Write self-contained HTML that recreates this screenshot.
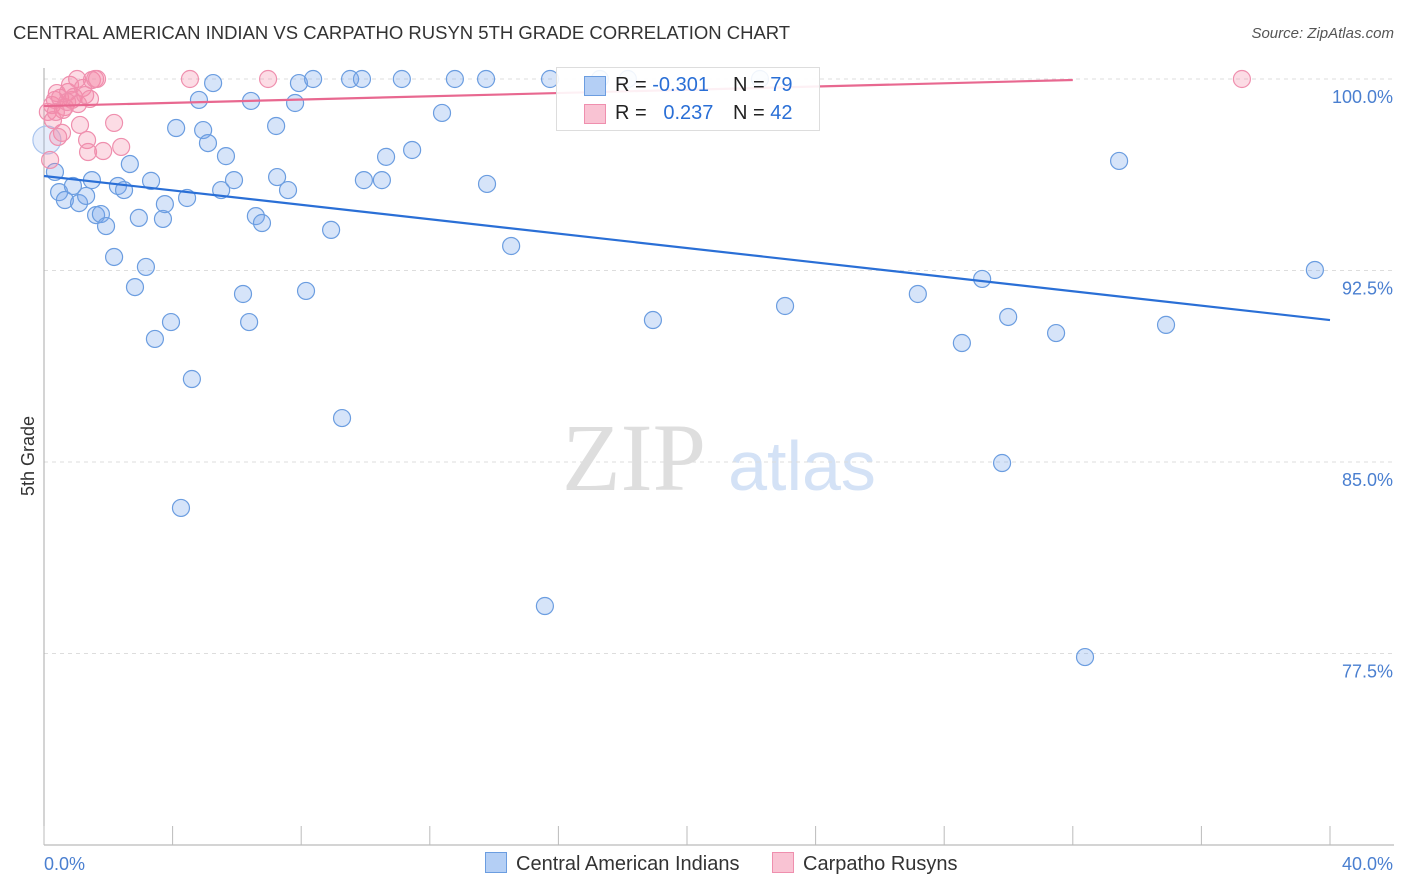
<!DOCTYPE html>
<html><head><meta charset="utf-8"><style>
body{margin:0;background:#fff;font-family:"Liberation Sans",sans-serif;}
#wrap{position:relative;width:1406px;height:892px;overflow:hidden;}
.t{position:absolute;white-space:nowrap;}
</style></head><body>
<div id="wrap">
<div class="t" style="left:13px;top:22px;font-size:18.5px;color:#333;">CENTRAL AMERICAN INDIAN VS CARPATHO RUSYN 5TH GRADE CORRELATION CHART</div>
<div class="t" style="right:12px;top:25px;font-size:15px;color:#555;font-style:italic;">Source: ZipAtlas.com</div>
<svg id="svg" width="1406" height="892" style="position:absolute;left:0;top:0;"></svg>
</div>
<script>
const yTicks=[100,92.5,85,77.5];
const yTickLabels=["100.0%","92.5%","85.0%","77.5%"];
const xTicks=[0,4,8,12,16,20,24,28,32,36,40];
const blueX=[0.34,0.47,0.65,0.90,1.09,1.31,1.49,1.62,1.77,1.93,2.18,2.30,2.49,2.67,2.83,2.95,3.17,3.33,3.45,3.70,3.76,3.95,4.11,4.26,4.45,4.60,4.82,4.95,5.10,5.26,5.51,5.66,5.91,6.19,6.38,6.44,6.59,6.78,7.22,7.25,7.59,7.81,7.93,8.15,8.37,8.93,9.27,9.52,9.89,9.95,10.51,10.64,11.13,11.45,12.38,12.78,13.75,13.78,14.53,15.58,15.74,17.29,18.16,18.94,22.27,23.05,27.18,28.55,29.18,29.80,29.99,31.48,32.38,33.44,34.90,39.53,0.09];
const blueY=[96.36,95.57,95.26,95.81,95.14,95.42,96.04,94.67,94.71,94.24,93.03,95.81,95.65,96.67,91.85,94.56,92.64,96.01,89.82,94.52,95.10,90.48,98.08,83.20,95.34,88.25,99.18,98.00,97.49,99.84,95.65,96.98,96.04,91.58,90.48,99.14,94.63,94.36,98.16,96.16,95.65,99.06,99.84,91.70,100,94.09,86.72,100,100,96.04,96.04,96.95,100,97.22,98.67,100,100,95.89,93.46,79.36,100,100,100,90.56,100,91.11,91.58,89.66,92.17,84.96,90.68,90.05,77.36,96.79,90.37,92.52,97.61];
const pinkX=[0.12,0.19,0.25,0.34,0.40,0.50,0.56,0.65,0.75,0.81,0.87,0.93,1.03,1.12,1.21,1.34,1.37,1.43,1.49,1.59,1.65,1.84,2.18,2.40,4.54,6.97,37.26,0.44,0.59,0.72,0.28,0.37,1.06,1.28];
const pinkY=[98.71,96.83,98.98,99.18,99.45,99.26,97.89,98.90,99.49,99.77,99.18,99.30,100,98.20,99.65,97.61,97.14,99.22,99.96,100,100,97.18,98.28,97.34,100,100,100,97.73,98.79,99.10,98.39,98.71,99.02,99.37];
const blueTrendX=[0,40];
const blueTrendY=[96.20,90.56];
const pinkTrendX=[0,32];
const pinkTrendY=[98.94,99.96];

const X0=44,PX=1286/40;
const xs=v=>X0+v*PX;
const ys=v=>79+(100-v)*191.5/7.5;
const svg=document.getElementById('svg');
const NS='http://www.w3.org/2000/svg';
function mk(tag,attrs,parent){const e=document.createElementNS(NS,tag);for(const k in attrs)e.setAttribute(k,attrs[k]);(parent||svg).appendChild(e);return e;}

let w=mk('text',{x:634,y:490,'font-size':96,'font-family':'Liberation Serif,serif',fill:'#dedede','text-anchor':'middle'});
w.textContent='ZIP';


w=mk('text',{x:802,y:490,'font-size':70,'font-family':'Liberation Sans,sans-serif',fill:'#d4e2f6','text-anchor':'middle'});
w.textContent='atlas';



yTicks.forEach((v,i)=>{
 const l=mk('line',{x1:44,x2:1394,y1:ys(v),y2:ys(v),stroke:'#dddddd','stroke-dasharray':'4,4'});
 
 
 const t=mk('text',{x:1393,y:ys(v)+24,'font-size':18,fill:'#4a7fd0','text-anchor':'end','font-family':'Liberation Sans,sans-serif'});
 t.textContent=yTickLabels[i];
 
 
});
let a=mk('line',{x1:44,x2:44,y1:68,y2:845,stroke:'#aaa'});


a=mk('line',{x1:44,x2:1394,y1:845,y2:845,stroke:'#aaa'});


xTicks.forEach(v=>{
 const l=mk('line',{x1:xs(v),x2:xs(v),y1:826,y2:845,stroke:'#bbb'});
 
 
});
let t=mk('text',{x:44,y:870,'font-size':18,fill:'#4a7fd0','font-family':'Liberation Sans,sans-serif'});
t.textContent='0.0%';


t=mk('text',{x:1393,y:870,'font-size':18,fill:'#4a7fd0','text-anchor':'end','font-family':'Liberation Sans,sans-serif'});
t.textContent='40.0%';


t=mk('text',{x:34,y:456,'font-size':18,fill:'#333','text-anchor':'middle','transform':'rotate(-90 34 456)','font-family':'Liberation Sans,sans-serif'});
t.textContent='5th Grade';



blueX.forEach((v,i)=>{
 const big=i===blueX.length-1;
 const c=mk('circle',{cx:xs(v),cy:ys(blueY[i]),r:(big?14:8.5),fill:big?'rgba(150,185,240,0.25)':'rgba(120,165,235,0.3)',stroke:big?'#a8c4ee':'#6b9de0','stroke-width':1.2});
 
 
});
pinkX.forEach((v,i)=>{
 const c=mk('circle',{cx:xs(v),cy:ys(pinkY[i]),r:8.5,fill:'rgba(245,140,170,0.3)',stroke:'#ef8fae','stroke-width':1.2});
 
 
});
let tl=mk('line',{x1:xs(blueTrendX[0]),y1:ys(blueTrendY[0]),x2:xs(blueTrendX[1]),y2:ys(blueTrendY[1]),stroke:'#2a6fd6','stroke-width':2.2});


tl=mk('line',{x1:xs(pinkTrendX[0]),y1:ys(pinkTrendY[0]),x2:xs(pinkTrendX[1]),y2:ys(pinkTrendY[1]),stroke:'#e86890','stroke-width':2.2});


</script>
<div class="t" style="left:556px;top:67px;width:262px;height:62px;border:1px solid #ddd;background:rgba(255,255,255,0.9);font-size:20px;">
 <div style="position:absolute;left:27px;top:8px;width:20px;height:18px;background:#b4cff5;border:1px solid #6b9de0;"></div>
 <div class="t" style="left:58px;top:6px;color:#222;">R = <span style="color:#2a6fd6">-0.301</span></div>
 <div class="t" style="left:176px;top:6px;color:#222;">N = <span style="color:#2a6fd6">79</span></div>
 <div style="position:absolute;left:27px;top:36px;width:20px;height:18px;background:#f9c3d3;border:1px solid #ef8fae;"></div>
 <div class="t" style="left:58px;top:34px;color:#222;">R = <span style="color:#2a6fd6">&nbsp; 0.237</span></div>
 <div class="t" style="left:176px;top:34px;color:#222;">N = <span style="color:#2a6fd6">42</span></div>
</div>
<div class="t" style="left:485px;top:852px;font-size:20px;color:#333;"><span style="display:inline-block;width:20px;height:19px;background:#b4cff5;border:1px solid #6b9de0;vertical-align:-3px;margin-right:9px;"></span>Central American Indians</div>
<div class="t" style="left:772px;top:852px;font-size:20px;color:#333;"><span style="display:inline-block;width:20px;height:19px;background:#f9c3d3;border:1px solid #ef8fae;vertical-align:-3px;margin-right:9px;"></span>Carpatho Rusyns</div>
</body></html>
